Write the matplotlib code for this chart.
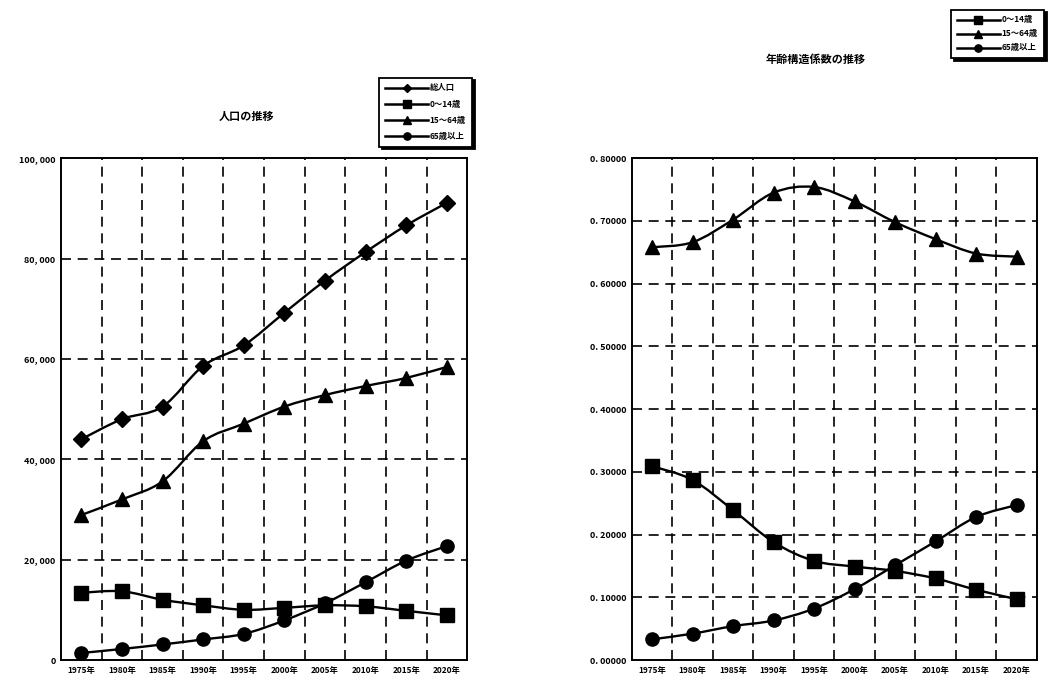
import numpy as np
import matplotlib
matplotlib.use("Agg")
import matplotlib.pyplot as plt
from matplotlib.path import Path
from matplotlib.patches import PathPatch
from matplotlib.lines import Line2D

plt.rcParams["font.family"] = ["Noto Sans CJK JP", "DejaVu Sans"]

# ----------------------------------------------------------------------
# data
# ----------------------------------------------------------------------
years = ["1975年", "1980年", "1985年", "1990年", "1995年",
         "2000年", "2005年", "2010年", "2015年", "2020年"]

pop_total = [44000, 48000, 50500, 58600, 62700, 69200, 75600, 81300, 86600, 91100]
pop_0_14 = [13400, 13700, 12000, 10900, 10000, 10400, 10900, 10700, 9800, 8900]
pop_15_64 = [28900, 32000, 35600, 43600, 47100, 50500, 52800, 54600, 56200, 58400]
pop_65 = [1400, 2200, 3100, 4100, 5200, 7900, 11300, 15500, 19800, 22700]

ratio_0_14 = [0.309, 0.287, 0.239, 0.188, 0.158, 0.149, 0.142, 0.130, 0.112, 0.097]
ratio_15_64 = [0.658, 0.666, 0.702, 0.745, 0.754, 0.731, 0.698, 0.671, 0.648, 0.643]
ratio_65 = [0.033, 0.042, 0.054, 0.063, 0.082, 0.113, 0.151, 0.189, 0.228, 0.247]

labels_pop = ["総人口", "0～14歳", "15～64歳", "65歳以上"]
labels_ratio = ["0～14歳", "15～64歳", "65歳以上"]


def smooth_path(xs, ys):
    # Catmull-Rom style bezier through the points (like Excel smoothed lines)
    pts = np.column_stack([xs, ys]).astype(float)
    n = len(pts)
    verts = [pts[0]]
    codes = [Path.MOVETO]
    for i in range(n - 1):
        p0 = pts[i - 1] if i > 0 else pts[i]
        p1 = pts[i]
        p2 = pts[i + 1]
        p3 = pts[i + 2] if i + 2 < n else pts[i + 1]
        c1 = p1 + (p2 - p0) / 6.0
        c2 = p2 - (p3 - p1) / 6.0
        verts += [c1, c2, p2]
        codes += [Path.CURVE4] * 3
    return Path(verts, codes)


def draw_series(ax, ys, marker, ms):
    xs = np.arange(len(ys)) + 0.5
    ax.add_patch(PathPatch(smooth_path(xs, ys), fill=False, edgecolor="black",
                           lw=1.7, zorder=3))
    ax.plot(xs, ys, ls="none", marker=marker, ms=ms, color="black", zorder=4)


def style_axes(ax, ymax, ystep, fmt):
    ax.set_xlim(0, len(years))
    ax.set_ylim(0, ymax)
    ax.set_xticks(np.arange(len(years)) + 0.5)
    ax.set_xticklabels(years, fontsize=6, fontweight="bold")
    yt = np.arange(0, ymax + ystep / 2, ystep)
    ax.set_yticks(yt)
    ax.set_yticklabels([fmt(v) for v in yt], fontsize=6.5, fontweight="bold")
    ax.tick_params(length=0, pad=4)
    for v in yt[1:-1]:
        ax.axhline(v, color="black", lw=1.2, ls=(0, (6, 4)), zorder=1)
    for k in range(1, len(years)):
        ax.axvline(k, color="black", lw=1.2, ls=(0, (6, 4)), zorder=1)
    for s in ax.spines.values():
        s.set_linewidth(1.4)


def add_legend(fig, handles_spec, labels, bbox, spacing):
    handles = [Line2D([], [], color="black", lw=1.8, marker=m, ms=ms * 0.55)
               for m, ms in handles_spec]
    leg = fig.legend(handles, labels, loc="upper left", bbox_to_anchor=bbox,
                     fontsize=6, frameon=True, fancybox=False,
                     shadow={"color": "black", "alpha": 1.0},
                     edgecolor="black", handlelength=5.2, numpoints=1,
                     labelspacing=spacing, borderpad=0.7, handletextpad=0.2)
    leg.get_frame().set_linewidth(1.3)
    for t in leg.get_texts():
        t.set_fontweight("bold")


fig = plt.figure(figsize=(10.53, 6.80), dpi=100)

# --- left: population
ax1 = fig.add_axes([0.058, 0.0294, 0.3856, 0.738])
style_axes(ax1, 100000, 20000, lambda v: f"{int(v):,}".replace(",", ", "))
draw_series(ax1, pop_total, "D", 8)
draw_series(ax1, pop_15_64, "^", 10)
draw_series(ax1, pop_0_14, "s", 10)
draw_series(ax1, pop_65, "o", 9.5)
fig.text(0.234, 0.823, "人口の推移", fontsize=8, fontweight="bold", ha="center")
add_legend(fig, [("D", 8), ("s", 10), ("^", 10), ("o", 9.5)], labels_pop,
           (0.356, 0.892), 0.85)

# --- right: age structure ratios
ax2 = fig.add_axes([0.600, 0.0294, 0.3846, 0.738])
style_axes(ax2, 0.8, 0.1, lambda v: f"{v:.5f}".replace(".", ". "))
draw_series(ax2, ratio_15_64, "^", 10)
draw_series(ax2, ratio_0_14, "s", 10)
draw_series(ax2, ratio_65, "o", 9.5)
fig.text(0.775, 0.908, "年齢構造係数の推移", fontsize=8, fontweight="bold", ha="center")
add_legend(fig, [("s", 10), ("^", 10), ("o", 9.5)], labels_ratio,
           (0.899, 0.992), 0.6)

plt.savefig("out.png", dpi=100)
plt.close(fig)
